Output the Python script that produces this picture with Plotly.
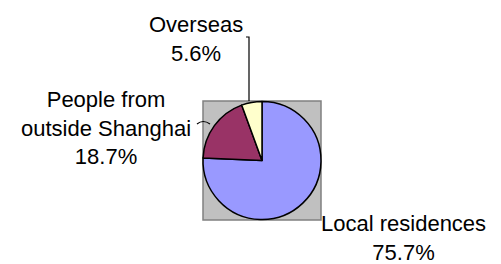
import plotly.graph_objects as go

W, H = 501, 264

labels = ["Local residences", "People from<br>outside Shanghai", "Overseas"]
values = [75.7, 18.7, 5.6]
colors = ["#9999FF", "#993366", "#FFFFCC"]

# layout (pixel positions in the 501x264 frame)
pie_box = (203, 321, 101, 220)  # x0, x1, y0, y1 (from top)
label_pos = [(403, 238), (106, 128), (196, 39)]

def px(x):
    return x / W

def py(y):
    return 1 - y / H

x0, x1, y0, y1 = pie_box
fig = go.Figure(go.Pie(
    labels=labels, values=values, sort=False, direction="clockwise",
    rotation=0, textinfo="none", hoverinfo="label+percent",
    marker=dict(colors=colors, line=dict(color="black", width=1.5)),
    domain=dict(x=[px(x0), px(x1)], y=[py(y1), py(y0)]),
    showlegend=False,
))

shapes = [
    dict(type="rect", xref="paper", yref="paper",
         x0=px(x0), x1=px(x1), y0=py(y1), y1=py(y0),
         fillcolor="#C0C0C0", line=dict(color="#808080", width=1.5), layer="below"),
    dict(type="path", xref="paper", yref="paper",
         path=f"M {px(246)},{py(37)} L {px(249)},{py(37)} L {px(249)},{py(101)}",
         line=dict(color="black", width=1.2)),
    dict(type="path", xref="paper", yref="paper",
         path=f"M {px(197)},{py(124)} Q {px(203)},{py(119)} {px(210)},{py(124)}",
         line=dict(color="black", width=1.2)),
]

total = sum(values)
annotations = []
for lab, v, (ax, ay) in zip(labels, values, label_pos):
    annotations.append(dict(
        text=f"{lab}<br>{v / total * 100:.1f}%", x=px(ax), y=py(ay),
        xref="paper", yref="paper", xanchor="center", yanchor="middle",
        align="center", showarrow=False,
        font=dict(family="Arial, Liberation Sans, sans-serif", size=22, color="black"),
    ))

fig.update_layout(
    width=W, height=H, margin=dict(l=0, r=0, t=0, b=0),
    paper_bgcolor="white", plot_bgcolor="white",
    shapes=shapes, annotations=annotations,
)
fig.write_html("out.html", config={"displayModeBar": False},
               post_script="document.body.style.margin='0';")
